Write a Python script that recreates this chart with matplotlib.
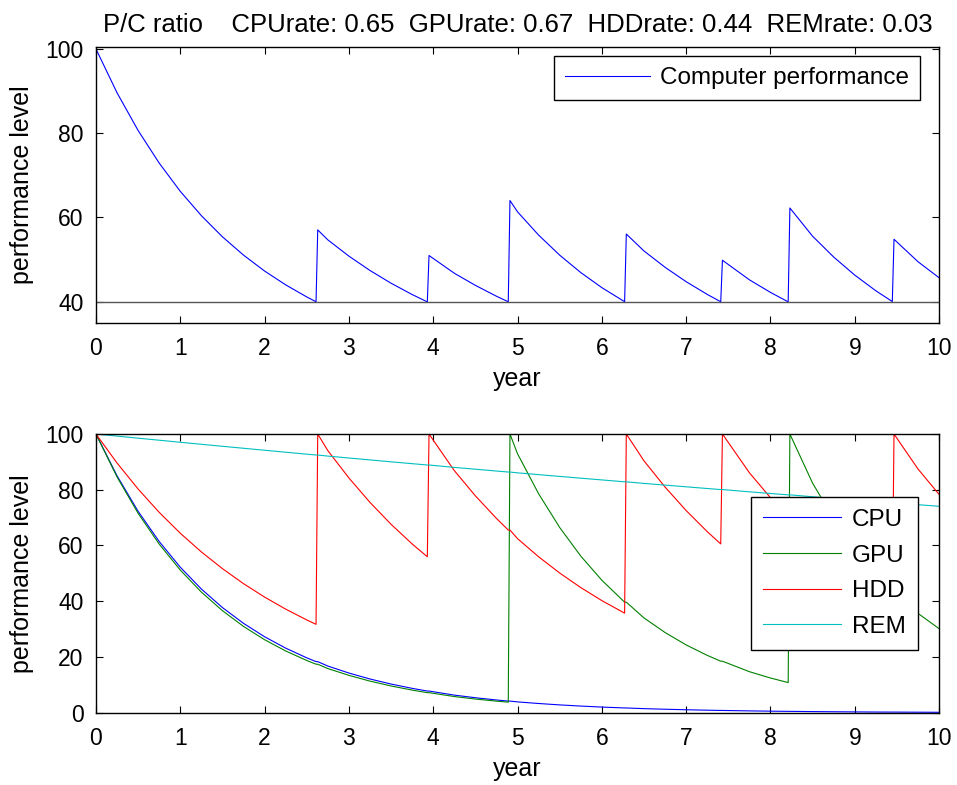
import matplotlib
matplotlib.use("Agg")
import matplotlib.pyplot as plt

plt.rcParams["font.family"] = ["Liberation Sans", "DejaVu Sans"]

# years sampled along the simulation (jumps = part replaced)
years = [0, 0.25, 0.5, 0.75, 1, 1.25, 1.5, 1.75, 2, 2.25, 2.5, 2.61, 2.63,
         2.75, 3, 3.25, 3.5, 3.75, 3.93, 3.95, 4.25, 4.5, 4.75, 4.89, 4.91,
         5, 5.25, 5.5, 5.75, 6, 6.27, 6.29, 6.5, 6.75, 7, 7.25, 7.41, 7.43,
         7.75, 8, 8.21, 8.23, 8.5, 8.75, 9, 9.25, 9.445, 9.465, 9.75, 10]

cpu = [100, 85.00, 72.25, 61.42, 52.20, 44.38, 37.72, 32.06, 27.25, 23.17,
       19.69, 18.33, 18.33, 16.74, 14.23, 12.09, 10.28, 8.74, 7.77, 7.77,
       6.31, 5.37, 4.56, 4.17, 4.17, 3.88, 3.30, 2.80, 2.38, 2.02, 1.70,
       1.70, 1.46, 1.24, 1.06, 0.90, 0.81, 0.81, 0.65, 0.55, 0.48, 0.48,
       0.40, 0.34, 0.29, 0.24, 0.22, 0.22, 0.18, 0.15]

gpu = [100, 84.58, 71.53, 60.50, 51.17, 43.28, 36.60, 30.96, 26.18, 22.15,
       18.73, 17.40, 17.40, 15.84, 13.40, 11.33, 9.59, 8.11, 7.19, 7.19,
       5.80, 4.90, 4.15, 3.78, 100, 92.90, 78.57, 66.45, 56.20, 47.53,
       39.67, 39.67, 34.00, 28.76, 24.32, 20.57, 18.48, 18.48, 14.72, 12.45,
       10.81, 100, 82.34, 69.64, 58.90, 49.82, 43.72, 43.72, 35.64, 30.14]

hdd = [100, 89.58, 80.25, 71.89, 64.40, 57.69, 51.69, 46.30, 41.48, 37.16,
       33.29, 31.71, 100, 94.03, 84.23, 75.46, 67.60, 60.56, 55.95, 100,
       86.87, 77.82, 69.71, 65.55, 65.55, 62.45, 55.95, 50.12, 44.90, 40.22,
       35.72, 100, 90.37, 80.96, 72.53, 64.97, 60.56, 100, 86.11, 77.14,
       70.33, 70.33, 61.90, 55.45, 49.68, 44.50, 40.84, 100, 87.44, 78.33]

rem = [100, 99.25, 98.51, 97.78, 97.04, 96.32, 95.60, 94.89, 94.18, 93.47,
       92.77, 92.47, 92.47, 92.08, 91.39, 90.71, 90.03, 89.36, 88.88, 88.88,
       88.03, 87.37, 86.72, 86.36, 86.36, 86.07, 85.43, 84.79, 84.16, 83.53,
       82.85, 82.85, 82.28, 81.67, 81.06, 80.45, 80.07, 80.07, 79.26, 78.66,
       78.17, 78.17, 77.49, 76.91, 76.34, 75.77, 75.33, 75.33, 74.64, 74.08]

computer = [100, 89.60, 80.64, 72.90, 66.20, 60.42, 55.40, 51.05, 47.27,
            43.99, 41.12, 39.98, 57.05, 54.67, 50.81, 47.40, 44.38, 41.69,
            39.95, 50.96, 46.75, 43.87, 41.29, 39.97, 64.02, 61.33, 55.81,
            51.04, 46.91, 43.33, 39.99, 56.06, 52.03, 48.16, 44.74, 41.72,
            39.98, 49.84, 45.19, 42.20, 39.95, 62.25, 55.53, 50.59, 46.30,
            42.58, 40.03, 54.82, 49.48, 45.68]

threshold = 40
title = "P/C ratio    CPUrate: 0.65  GPUrate: 0.67  HDDrate: 0.44  REMrate: 0.03"

fs_tick = 16.5
fs_label = 18
fs_legend = 17.5
fs_title = 18.5

fig = plt.figure(figsize=(9.57, 7.85), dpi=100)
ax1 = fig.add_axes([0.1003, 0.5889, 0.881, 0.3508])
ax2 = fig.add_axes([0.1003, 0.0921, 0.881, 0.3550])

ax1.plot(years, computer, color="blue", lw=0.8, label="Computer performance")
ax1.axhline(threshold, color="#555555", lw=1.0)
ax1.set_xlim(0, 10)
ax1.set_ylim(35, 100.4)
ax1.set_yticks([40, 60, 80, 100])
ax1.set_title(title, fontsize=fs_title, pad=11)
leg1 = ax1.legend(loc="upper right", bbox_to_anchor=(0.977, 0.968),
                  fontsize=fs_legend, handlelength=3.5, fancybox=False,
                  framealpha=1, borderpad=0.45, handletextpad=0.4,
                  borderaxespad=0)

ax2.plot(years, cpu, color="blue", lw=0.8, label="CPU")
ax2.plot(years, gpu, color="#008000", lw=0.8, label="GPU")
ax2.plot(years, hdd, color="red", lw=0.8, label="HDD")
ax2.plot(years, rem, color="#00bfbf", lw=0.8, label="REM")
ax2.set_xlim(0, 10)
ax2.set_ylim(0, 100)
ax2.set_yticks([0, 20, 40, 60, 80, 100])
leg2 = ax2.legend(loc="upper right", bbox_to_anchor=(0.975, 0.775),
                  fontsize=fs_legend, handlelength=3.2, fancybox=False,
                  framealpha=1, borderpad=0.5, handletextpad=0.45,
                  labelspacing=0.56, borderaxespad=0)

for leg in (leg1, leg2):
    leg.get_frame().set_edgecolor("black")
    leg.get_frame().set_linewidth(1.0)

for ax in (ax1, ax2):
    ax.set_xticks(range(0, 11))
    ax.set_xlabel("year", fontsize=fs_label, labelpad=5)
    ax.set_ylabel("performance level", fontsize=fs_label, labelpad=8)
    ax.tick_params(direction="in", length=5, width=0.8, labelsize=fs_tick,
                   top=True, right=True)
    ax.tick_params(axis="x", pad=10)
    ax.tick_params(axis="y", pad=9)
    for s in ax.spines.values():
        s.set_linewidth(1.0)

fig.savefig("out.png", dpi=100)
